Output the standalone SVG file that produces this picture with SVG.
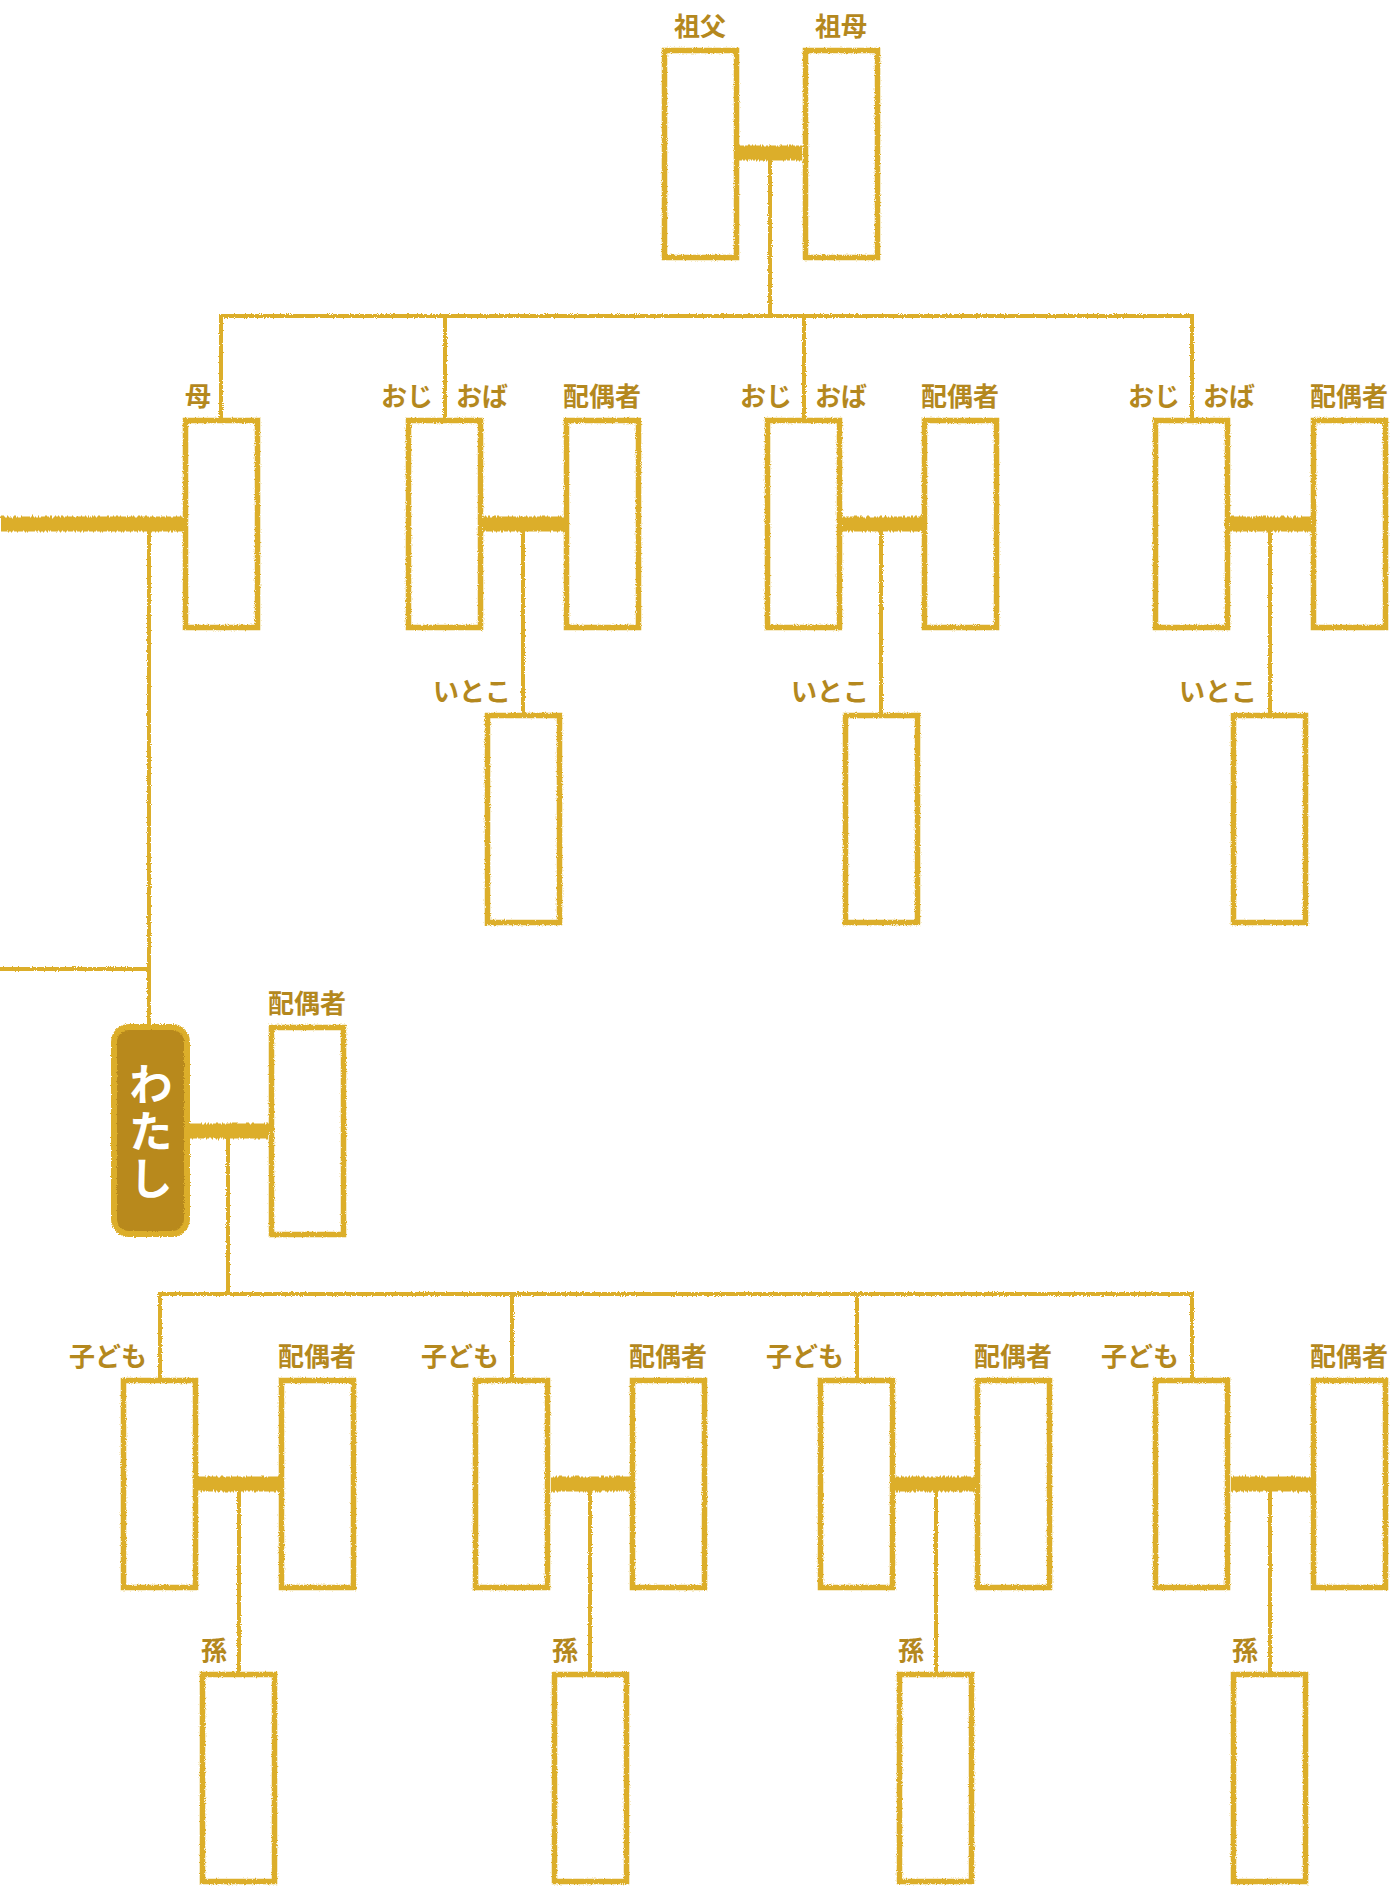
<svg xmlns="http://www.w3.org/2000/svg" width="1390" height="1886" viewBox="0 0 1390 1886">
<defs>
<style>
.box{fill:#ffffff;stroke:#dcae2b;stroke-width:5.5}
.me{fill:#b8891d;stroke:#dcae2b;stroke-width:6}
.ln{stroke:#dcae2b;stroke-width:4;fill:none;stroke-linecap:butt}
.mar{stroke:#dcae2b;stroke-width:15;fill:none}
.lb{font-family:"Noto Sans CJK JP","Noto Sans",sans-serif;font-weight:700;font-size:26px;fill:#b4881e}
.e{text-anchor:end}
.m{text-anchor:middle}
.wt{font-family:"Noto Sans CJK JP","Noto Sans",sans-serif;font-weight:700;font-size:44px;fill:#ffffff;text-anchor:middle;writing-mode:vertical-rl;letter-spacing:3px}
</style>
<filter id="rough" filterUnits="userSpaceOnUse" x="0" y="0" width="1390" height="1886">
<feTurbulence type="fractalNoise" baseFrequency="0.9" numOctaves="2" seed="3" result="n"/>
<feDisplacementMap in="SourceGraphic" in2="n" scale="3" xChannelSelector="R" yChannelSelector="G"/>
</filter>
<filter id="streak" filterUnits="userSpaceOnUse" x="0" y="0" width="1390" height="1886">
<feTurbulence type="fractalNoise" baseFrequency="0.6 0.03" numOctaves="2" seed="7" result="n"/>
<feDisplacementMap in="SourceGraphic" in2="n" scale="5" xChannelSelector="R" yChannelSelector="G"/>
</filter>
</defs>
<rect width="1390" height="1886" fill="#ffffff"/>

<g id="connectors">
<g filter="url(#streak)">
<line class="mar" x1="738" y1="153" x2="803" y2="153"/>
<line class="mar" x1="0" y1="524" x2="183" y2="524"/>
<line class="mar" x1="483" y1="524" x2="564" y2="524"/>
<line class="mar" x1="842" y1="524" x2="922" y2="524"/>
<line class="mar" x1="1230" y1="524" x2="1311" y2="524"/>
<line class="mar" x1="189" y1="1131" x2="269" y2="1131"/>
<line class="mar" x1="197" y1="1484" x2="279" y2="1484"/>
<line class="mar" x1="550" y1="1484" x2="630" y2="1484"/>
<line class="mar" x1="895" y1="1484" x2="975" y2="1484"/>
<line class="mar" x1="1230" y1="1484" x2="1311" y2="1484"/>
</g>
<g filter="url(#rough)">
<path class="ln" d="M770 153V316"/>
<path class="ln" d="M219 316H1194"/>
<path class="ln" d="M221 316V418M445 316V418M804 316V418M1192 316V418"/>
<path class="ln" d="M523 524V713M881 524V713M1270 524V713"/>
<path class="ln" d="M149 524V1025M0 969H151"/>
<path class="ln" d="M228 1131V1294"/>
<path class="ln" d="M158 1294H1194"/>
<path class="ln" d="M160 1294V1378M512 1294V1378M857 1294V1378M1192 1294V1378"/>
<path class="ln" d="M239 1484V1672M590 1484V1672M936 1484V1672M1270 1484V1672"/>
</g>
</g>

<g id="grandfather"><rect class="box" filter="url(#rough)" x="664.5" y="50.5" width="72" height="207"/><text class="lb m" x="700" y="36">祖父</text></g>
<g id="grandmother"><rect class="box" filter="url(#rough)" x="805.5" y="50.5" width="72" height="207"/><text class="lb m" x="841" y="36">祖母</text></g>

<g id="mother"><rect class="box" filter="url(#rough)" x="185.5" y="420.5" width="72" height="207"/><text class="lb e" x="211" y="406">母</text></g>

<g id="uncle1"><rect class="box" filter="url(#rough)" x="408.5" y="420.5" width="72" height="207"/><text class="lb e" x="433" y="406">おじ</text><text class="lb" x="456" y="406">おば</text></g>
<g id="uncle1-spouse"><rect class="box" filter="url(#rough)" x="566.5" y="420.5" width="72" height="207"/><text class="lb" x="563" y="406">配偶者</text></g>
<g id="cousin1"><rect class="box" filter="url(#rough)" x="487.5" y="715.5" width="72" height="207"/><text class="lb e" x="511" y="701">いとこ</text></g>

<g id="uncle2"><rect class="box" filter="url(#rough)" x="767.5" y="420.5" width="72" height="207"/><text class="lb e" x="792" y="406">おじ</text><text class="lb" x="815" y="406">おば</text></g>
<g id="uncle2-spouse"><rect class="box" filter="url(#rough)" x="924.5" y="420.5" width="72" height="207"/><text class="lb" x="921" y="406">配偶者</text></g>
<g id="cousin2"><rect class="box" filter="url(#rough)" x="845.5" y="715.5" width="72" height="207"/><text class="lb e" x="869" y="701">いとこ</text></g>

<g id="uncle3"><rect class="box" filter="url(#rough)" x="1155.5" y="420.5" width="72" height="207"/><text class="lb e" x="1180" y="406">おじ</text><text class="lb" x="1203" y="406">おば</text></g>
<g id="uncle3-spouse"><rect class="box" filter="url(#rough)" x="1313.5" y="420.5" width="72" height="207"/><text class="lb" x="1310" y="406">配偶者</text></g>
<g id="cousin3"><rect class="box" filter="url(#rough)" x="1233.5" y="715.5" width="72" height="207"/><text class="lb e" x="1257" y="701">いとこ</text></g>

<g id="me"><rect class="me" filter="url(#rough)" x="114" y="1027" width="73" height="207" rx="15" ry="15"/><text class="wt" x="151" y="1133">わたし</text></g>
<g id="me-spouse"><rect class="box" filter="url(#rough)" x="271.5" y="1027.5" width="72" height="207"/><text class="lb" x="268" y="1013">配偶者</text></g>

<g id="child1"><rect class="box" filter="url(#rough)" x="123.5" y="1380.5" width="72" height="207"/><text class="lb e" x="147" y="1366">子ども</text></g>
<g id="child1-spouse"><rect class="box" filter="url(#rough)" x="281.5" y="1380.5" width="72" height="207"/><text class="lb" x="278" y="1366">配偶者</text></g>
<g id="grandchild1"><rect class="box" filter="url(#rough)" x="202.5" y="1674.5" width="72" height="207"/><text class="lb e" x="227" y="1660">孫</text></g>

<g id="child2"><rect class="box" filter="url(#rough)" x="475.5" y="1380.5" width="72" height="207"/><text class="lb e" x="499" y="1366">子ども</text></g>
<g id="child2-spouse"><rect class="box" filter="url(#rough)" x="632.5" y="1380.5" width="72" height="207"/><text class="lb" x="629" y="1366">配偶者</text></g>
<g id="grandchild2"><rect class="box" filter="url(#rough)" x="554.5" y="1674.5" width="72" height="207"/><text class="lb e" x="578" y="1660">孫</text></g>

<g id="child3"><rect class="box" filter="url(#rough)" x="820.5" y="1380.5" width="72" height="207"/><text class="lb e" x="844" y="1366">子ども</text></g>
<g id="child3-spouse"><rect class="box" filter="url(#rough)" x="977.5" y="1380.5" width="72" height="207"/><text class="lb" x="974" y="1366">配偶者</text></g>
<g id="grandchild3"><rect class="box" filter="url(#rough)" x="899.5" y="1674.5" width="72" height="207"/><text class="lb e" x="924" y="1660">孫</text></g>

<g id="child4"><rect class="box" filter="url(#rough)" x="1155.5" y="1380.5" width="72" height="207"/><text class="lb e" x="1179" y="1366">子ども</text></g>
<g id="child4-spouse"><rect class="box" filter="url(#rough)" x="1313.5" y="1380.5" width="72" height="207"/><text class="lb" x="1310" y="1366">配偶者</text></g>
<g id="grandchild4"><rect class="box" filter="url(#rough)" x="1233.5" y="1674.5" width="72" height="207"/><text class="lb e" x="1258" y="1660">孫</text></g>
</svg>
